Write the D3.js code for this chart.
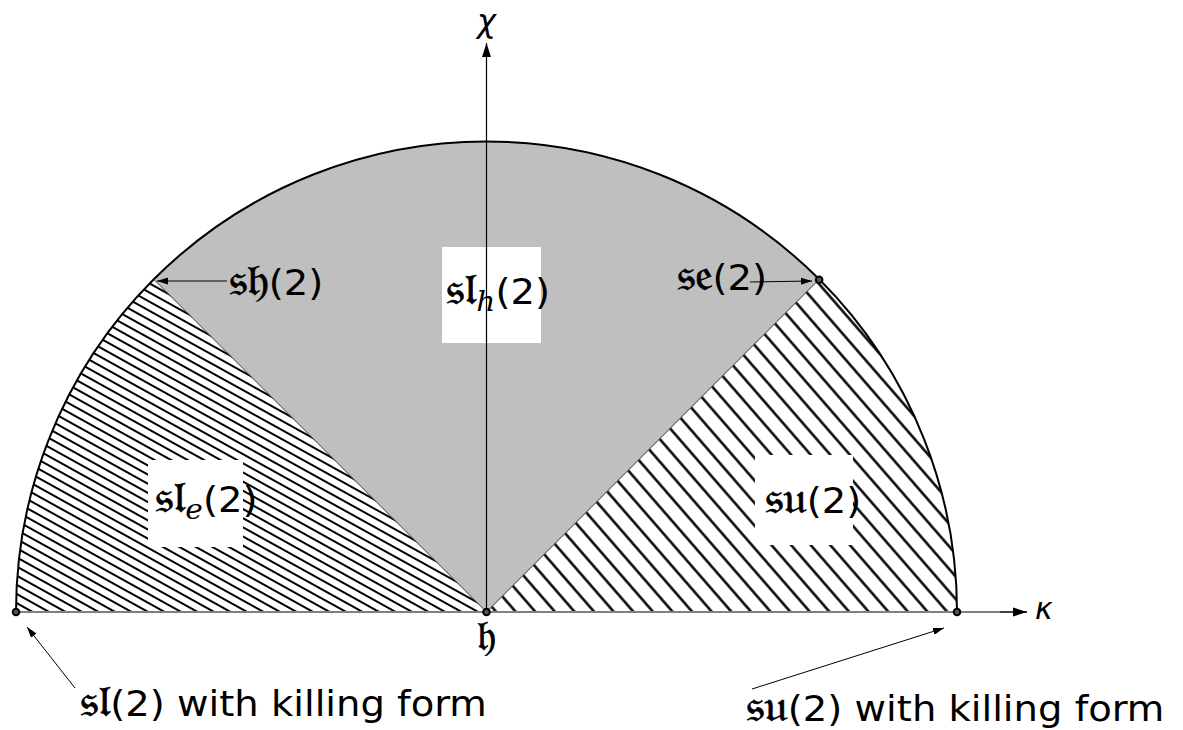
<!DOCTYPE html>
<html><head><meta charset="utf-8">
<script src="https://cdn.jsdelivr.net/npm/d3@7"></script>
<style>
body{margin:0;background:#fff;}
text{font-family:"DejaVu Sans",sans-serif;}
</style></head>
<body>
<svg id="c" width="1183" height="730"></svg>
<script>
// Region boundaries (degrees, measured from the kappa axis)
const regionNames = ["su(2)", "sl_h(2)", "sl_e(2)"];
const regionStart = [0, 45, 135];
const regionEnd = [45, 135, 180];
const regionFill = ["hatchCoarse", "gray", "hatchFine"];
// Marked points (kappa, chi) on unit half disk
const pointNames = ["sl(2)", "h", "su(2)", "se(2)"];
const pointX = [-1, 0, 1, 0.707];
const pointY = [0, 0, 0, 0.707];

const svg = d3.select("#c");
const x = d3.scaleLinear().domain([-1, 1]).range([16, 957]);
const y = d3.scaleLinear().domain([0, 1]).range([612, 142]);
const cx = x(0), cy = y(0), R = x(1) - x(0);
const rad = d => d * Math.PI / 180;

const defs = svg.append("defs");
function hatch(id, spacing, angle, w) {
  const p = defs.append("pattern").attr("id", id).attr("patternUnits", "userSpaceOnUse")
    .attr("width", 40).attr("height", spacing)
    .attr("patternTransform", `rotate(${angle})`);
  p.append("rect").attr("width", 40).attr("height", spacing).attr("fill", "#fff");
  p.append("line").attr("x1", 0).attr("x2", 40).attr("y1", spacing / 2).attr("y2", spacing / 2)
    .attr("stroke", "#000").attr("stroke-width", w);
}
hatch("hatchFine", 8.0, 29, 1.9);
hatch("hatchCoarse", 14.8, 49, 2.3);
defs.append("marker").attr("id", "ah").attr("viewBox", "0 0 10 10")
  .attr("refX", 10).attr("refY", 5).attr("markerWidth", 11).attr("markerHeight", 11)
  .attr("markerUnits", "userSpaceOnUse").attr("orient", "auto")
  .append("path").attr("d", "M0,1.8 L10,5 L0,8.2 Z").attr("fill", "#000");
defs.append("marker").attr("id", "ahBig").attr("viewBox", "0 0 10 10")
  .attr("refX", 10).attr("refY", 5).attr("markerWidth", 14).attr("markerHeight", 14)
  .attr("markerUnits", "userSpaceOnUse").attr("orient", "auto")
  .append("path").attr("d", "M0,1.8 L10,5 L0,8.2 Z").attr("fill", "#000");

const arc = d3.arc().innerRadius(0).outerRadius(R);
const g = svg.append("g").attr("transform", `translate(${cx},${cy})`);
regionNames.forEach((n, i) => {
  const fill = regionFill[i] === "gray" ? "#bfbfbf" : `url(#${regionFill[i]})`;
  g.append("path")
    .attr("d", arc({ startAngle: Math.PI / 2 - rad(regionEnd[i]), endAngle: Math.PI / 2 - rad(regionStart[i]) }))
    .attr("fill", fill).attr("stroke", "none");
});
// radial edges
[45, 135].forEach(a => {
  svg.append("line").attr("x1", cx).attr("y1", cy)
    .attr("x2", cx + R * Math.cos(rad(a))).attr("y2", cy - R * Math.sin(rad(a)))
    .attr("stroke", "#333").attr("stroke-width", 1);
});
// outer arc
g.append("path").attr("d", d3.arc().innerRadius(R).outerRadius(R)({ startAngle: -Math.PI / 2, endAngle: Math.PI / 2 }))
  .attr("fill", "none").attr("stroke", "#000").attr("stroke-width", 2);

// label boxes
const boxes = [
  { x: 442, y: 247, w: 99, h: 96, t: "𝔰𝔩", sub: "h", tx: 446, ty: 304 },
  { x: 148, y: 460, w: 95, h: 87, t: "𝔰𝔩", sub: "e", tx: 155, ty: 512 },
  { x: 755, y: 455, w: 98, h: 90, t: "𝔰𝔲", sub: null, tx: 765, ty: 513 }
];
boxes.forEach(b => svg.append("rect").attr("x", b.x).attr("y", b.y).attr("width", b.w).attr("height", b.h).attr("fill", "#fff"));

// axes
svg.append("line").attr("x1", x(-1)).attr("y1", cy).attr("x2", 1027).attr("y2", cy)
  .attr("stroke", "#808080").attr("stroke-width", 2);
svg.append("line").attr("x1", 1000).attr("y1", cy).attr("x2", 1027).attr("y2", cy)
  .attr("stroke", "#000").attr("stroke-width", 1).attr("marker-end", "url(#ahBig)");
svg.append("line").attr("x1", cx).attr("y1", cy).attr("x2", cx).attr("y2", 43)
  .attr("stroke", "#000").attr("stroke-width", 1.2).attr("marker-end", "url(#ahBig)");
svg.append("text").attr("x", 1035).attr("y", 619).attr("font-family", "DejaVu Serif").attr("font-style", "italic")
  .attr("font-size", 30).text("κ");
svg.append("text").attr("x", 477).attr("y", 32).attr("font-family", "DejaVu Serif").attr("font-style", "italic")
  .attr("font-size", 32).text("χ");

// label texts
const FS = 35, FK = 44;
function label(tx, ty, main, sub, rest) {
  const t = svg.append("g").attr("transform", `translate(${tx},${ty}) scale(1.1,1)`)
    .append("text").attr("font-size", FS);
  t.append("tspan").attr("font-size", FK).attr("stroke", "#000").attr("stroke-width", 0.7).text(main);
  if (sub) {
    t.append("tspan").attr("dy", 7).attr("font-family", "DejaVu Serif").attr("font-style", "italic")
      .attr("font-size", 27).text(sub);
    t.append("tspan").attr("dy", -7).text(rest);
  } else t.append("tspan").text(rest);
  return t;
}
boxes.forEach(b => label(b.tx, b.ty, b.t, b.sub, "(2)"));
label(229, 295, "𝔰𝔥", null, "(2)");
label(677, 290, "𝔰𝔢", null, "(2)");
svg.append("text").attr("x", cx).attr("y", 650).attr("text-anchor", "middle").attr("font-size", 42)
  .attr("stroke", "#000").attr("stroke-width", 0.7).text("𝔥");
label(80, 716, "𝔰𝔩", null, "(2) with killing form");
label(746, 721, "𝔰𝔲", null, "(2) with killing form");

// arrows
const arrows = [[227, 281, 157, 281], [750, 282, 812, 281], [75, 688, 27, 627], [752, 689, 944, 628]];
arrows.forEach(a => svg.append("line").attr("x1", a[0]).attr("y1", a[1]).attr("x2", a[2]).attr("y2", a[3])
  .attr("stroke", "#000").attr("stroke-width", 1).attr("marker-end", "url(#ah)"));

// points
svg.selectAll("circle.pt").data(pointX.map((d, i) => [d, pointY[i]])).enter().append("circle")
  .attr("class", "pt").attr("cx", d => x(d[0])).attr("cy", d => y(d[1])).attr("r", 3.3)
  .attr("fill", "#555").attr("stroke", "#000").attr("stroke-width", 2);
</script>
</body></html>
